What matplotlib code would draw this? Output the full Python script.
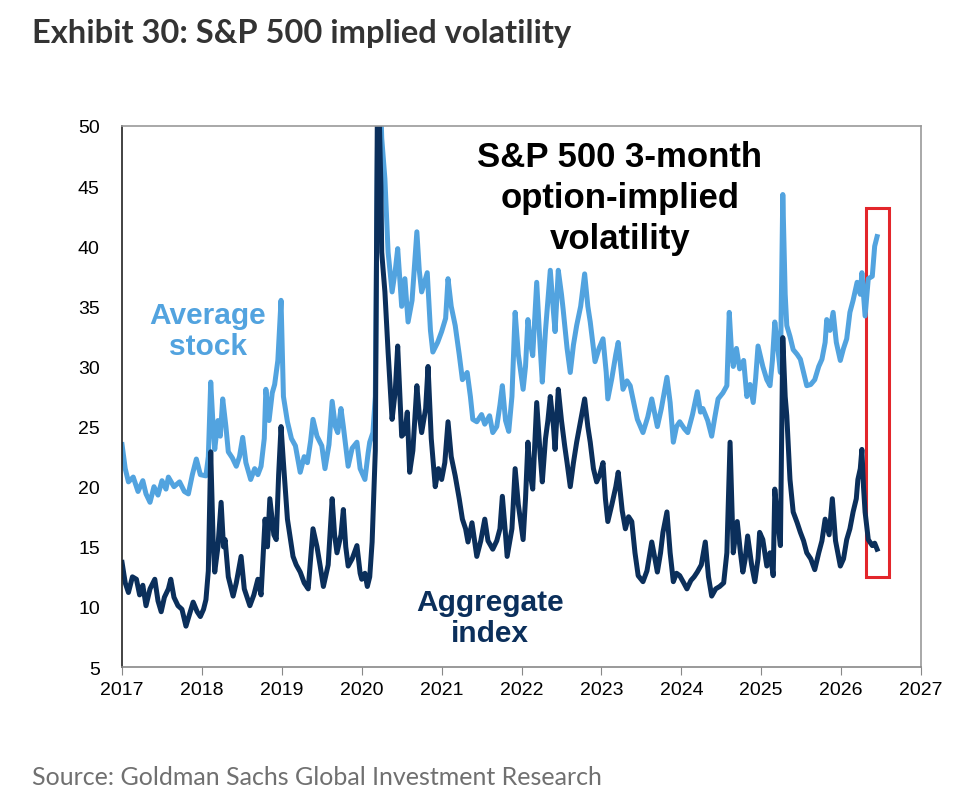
import numpy as np
import matplotlib.pyplot as plt
from matplotlib.patches import Rectangle

# Average stock 3m implied vol (decimal year, vol)
avg_x = [2017.00, 2017.04, 2017.08, 2017.14, 2017.20, 2017.26, 2017.30, 2017.35, 2017.40, 2017.45,
         2017.50, 2017.55, 2017.58, 2017.65, 2017.72, 2017.78, 2017.83, 2017.88, 2017.93, 2017.98,
         2018.05, 2018.08, 2018.11, 2018.14, 2018.16, 2018.20, 2018.23, 2018.26, 2018.30, 2018.33,
         2018.38, 2018.43, 2018.47, 2018.51, 2018.55, 2018.61, 2018.66, 2018.70, 2018.74, 2018.78,
         2018.80, 2018.84, 2018.88, 2018.91, 2018.95, 2018.99, 2019.02, 2019.07, 2019.12, 2019.17,
         2019.23, 2019.28, 2019.32, 2019.36, 2019.39, 2019.44, 2019.50, 2019.54, 2019.59, 2019.63,
         2019.67, 2019.70, 2019.74, 2019.77, 2019.83, 2019.88, 2019.94, 2019.98, 2020.04, 2020.08,
         2020.10, 2020.14, 2020.17, 2020.21, 2020.25, 2020.29, 2020.33, 2020.38, 2020.42, 2020.45,
         2020.50, 2020.54, 2020.58, 2020.63, 2020.69, 2020.72, 2020.75, 2020.82, 2020.86, 2020.89,
         2020.95, 2021.00, 2021.05, 2021.08, 2021.12, 2021.17, 2021.22, 2021.26, 2021.32, 2021.36,
         2021.39, 2021.44, 2021.50, 2021.54, 2021.60, 2021.64, 2021.69, 2021.73, 2021.76, 2021.80,
         2021.84, 2021.88, 2021.92, 2021.96, 2022.02, 2022.05, 2022.08, 2022.11, 2022.14, 2022.19,
         2022.23, 2022.26, 2022.30, 2022.33, 2022.36, 2022.40, 2022.42, 2022.46, 2022.50, 2022.52,
         2022.57, 2022.61, 2022.65, 2022.69, 2022.74, 2022.79, 2022.83, 2022.86, 2022.92, 2022.97,
         2023.02, 2023.06, 2023.08, 2023.13, 2023.18, 2023.21, 2023.27, 2023.32, 2023.36, 2023.42,
         2023.45, 2023.52, 2023.58, 2023.63, 2023.67, 2023.70, 2023.75, 2023.82, 2023.86, 2023.90,
         2023.94, 2023.98, 2024.04, 2024.08, 2024.14, 2024.20, 2024.24, 2024.27, 2024.33, 2024.38,
         2024.42, 2024.46, 2024.52, 2024.57, 2024.60, 2024.63, 2024.65, 2024.69, 2024.73, 2024.78,
         2024.82, 2024.86, 2024.90, 2024.93, 2024.96, 2025.02, 2025.07, 2025.11, 2025.14, 2025.17,
         2025.20, 2025.24, 2025.27, 2025.30, 2025.32, 2025.36, 2025.40, 2025.45, 2025.49, 2025.53,
         2025.57, 2025.62, 2025.67, 2025.72, 2025.76, 2025.80, 2025.82, 2025.86, 2025.90, 2025.94,
         2025.99, 2026.03, 2026.07, 2026.11, 2026.15, 2026.20, 2026.24, 2026.26, 2026.30, 2026.34,
         2026.39, 2026.42, 2026.45]
avg_y = [23.5, 21.5, 20.4, 20.8, 19.6, 20.5, 19.4, 18.7, 20.0, 19.3,
         20.5, 19.8, 20.8, 20.0, 20.4, 19.6, 19.4, 21.0, 22.3, 21.0,
         20.9, 22.5, 28.7, 25.0, 23.1, 25.5, 24.2, 27.3, 25.0, 22.9,
         22.4, 21.7, 22.5, 24.1, 22.0, 20.6, 21.5, 21.0, 21.7, 24.0,
         28.1, 25.5, 27.8, 28.5, 30.5, 35.5, 27.5, 25.4, 24.0, 23.4,
         21.2, 22.5, 22.0, 23.8, 25.6, 24.2, 23.4, 21.5, 23.5, 27.1,
         25.0, 24.5, 26.5, 25.0, 21.7, 23.2, 23.7, 21.5, 20.6, 22.8,
         23.7, 24.5, 27.5, 58.0, 49.0, 45.6, 39.5, 36.2, 38.0, 39.8,
         35.0, 37.3, 33.7, 35.5, 41.2, 38.0, 36.2, 37.8, 33.0, 31.2,
         32.0, 32.9, 34.0, 37.3, 35.0, 33.4, 31.0, 28.9, 29.5, 27.5,
         25.6, 25.4, 26.0, 25.2, 25.9, 24.5, 25.0, 26.8, 28.4, 25.5,
         24.6, 27.5, 34.5, 31.0, 28.1, 30.0, 33.9, 32.0, 30.9, 37.0,
         32.0, 28.7, 33.0, 35.5, 38.0, 34.5, 32.9, 38.0, 36.0, 34.8,
         31.5, 29.5, 31.8, 33.4, 35.0, 37.7, 35.0, 33.7, 30.4, 31.5,
         32.3, 29.5, 27.3, 29.0, 31.0, 32.0, 28.1, 28.8, 28.4, 26.5,
         25.6, 24.5, 25.8, 27.3, 26.0, 25.0, 26.5, 29.1, 27.0, 23.7,
         25.0, 25.4, 24.8, 24.5, 26.0, 27.9, 26.2, 26.5, 25.5, 24.2,
         25.8, 27.3, 27.8, 28.4, 34.5, 31.0, 30.0, 31.5, 29.8, 30.5,
         27.5, 28.5, 27.0, 29.0, 31.7, 30.0, 28.9, 28.4, 30.5, 33.7,
         32.0, 29.5, 44.3, 36.0, 33.4, 32.5, 31.4, 31.0, 30.6, 29.5,
         28.4, 28.5, 28.9, 30.0, 30.6, 32.0, 33.9, 33.0, 34.5, 32.0,
         30.5, 31.5, 32.3, 34.5, 35.5, 37.0, 36.0, 37.8, 34.2, 37.3,
         37.5, 40.0, 40.8]

# Aggregate index 3m implied vol
agg_x = [2017.00, 2017.04, 2017.08, 2017.13, 2017.18, 2017.22, 2017.26, 2017.30, 2017.35, 2017.41,
         2017.45, 2017.49, 2017.53, 2017.58, 2017.61, 2017.65, 2017.70, 2017.75, 2017.80, 2017.85,
         2017.89, 2017.94, 2017.98, 2018.02, 2018.05, 2018.08, 2018.11, 2018.14, 2018.16, 2018.20,
         2018.24, 2018.27, 2018.29, 2018.33, 2018.39, 2018.43, 2018.49, 2018.53, 2018.60, 2018.65,
         2018.70, 2018.74, 2018.79, 2018.82, 2018.85, 2018.90, 2018.93, 2018.96, 2018.99, 2019.02,
         2019.07, 2019.14, 2019.18, 2019.23, 2019.28, 2019.33, 2019.36, 2019.39, 2019.44, 2019.48,
         2019.52, 2019.58, 2019.63, 2019.66, 2019.69, 2019.74, 2019.77, 2019.80, 2019.83, 2019.88,
         2019.94, 2019.98, 2020.00, 2020.04, 2020.07, 2020.10, 2020.13, 2020.17, 2020.20, 2020.24,
         2020.25, 2020.29, 2020.33, 2020.38, 2020.42, 2020.45, 2020.50, 2020.54, 2020.57, 2020.60,
         2020.64, 2020.69, 2020.72, 2020.75, 2020.80, 2020.83, 2020.87, 2020.92, 2020.96, 2021.00,
         2021.04, 2021.08, 2021.12, 2021.17, 2021.22, 2021.26, 2021.30, 2021.33, 2021.38, 2021.44,
         2021.49, 2021.54, 2021.58, 2021.64, 2021.69, 2021.73, 2021.76, 2021.80, 2021.82, 2021.88,
         2021.92, 2021.96, 2022.02, 2022.05, 2022.08, 2022.11, 2022.14, 2022.19, 2022.23, 2022.26,
         2022.30, 2022.33, 2022.36, 2022.40, 2022.42, 2022.46, 2022.50, 2022.54, 2022.57, 2022.61,
         2022.65, 2022.69, 2022.74, 2022.79, 2022.83, 2022.86, 2022.90, 2022.94, 2022.98, 2023.02,
         2023.05, 2023.08, 2023.13, 2023.18, 2023.21, 2023.26, 2023.30, 2023.34, 2023.38, 2023.42,
         2023.46, 2023.52, 2023.57, 2023.63, 2023.67, 2023.70, 2023.74, 2023.77, 2023.82, 2023.86,
         2023.90, 2023.94, 2023.98, 2024.03, 2024.07, 2024.12, 2024.16, 2024.20, 2024.25, 2024.30,
         2024.34, 2024.38, 2024.43, 2024.48, 2024.53, 2024.57, 2024.61, 2024.64, 2024.65, 2024.70,
         2024.74, 2024.77, 2024.80, 2024.83, 2024.88, 2024.92, 2024.96, 2024.98, 2025.02, 2025.07,
         2025.11, 2025.15, 2025.17, 2025.20, 2025.24, 2025.27, 2025.30, 2025.32, 2025.36, 2025.40,
         2025.45, 2025.49, 2025.53, 2025.57, 2025.62, 2025.67, 2025.72, 2025.76, 2025.80, 2025.85,
         2025.89, 2025.93, 2025.99, 2026.03, 2026.07, 2026.11, 2026.15, 2026.19, 2026.21, 2026.24,
         2026.26, 2026.28, 2026.30, 2026.34, 2026.39, 2026.42, 2026.45]
agg_y = [13.7, 12.0, 11.2, 12.5, 12.3, 11.0, 11.8, 10.1, 11.5, 12.3,
         10.5, 9.6, 10.8, 11.5, 12.3, 10.8, 10.1, 9.8, 8.4, 9.5,
         10.4, 9.6, 9.2, 9.8, 10.6, 13.0, 22.9, 15.5, 12.9, 15.0,
         18.7, 15.0, 15.6, 12.5, 10.9, 12.0, 14.2, 11.5, 10.1, 11.0,
         12.3, 11.0, 17.3, 15.0, 19.0, 16.0, 15.6, 21.0, 25.0, 22.0,
         17.3, 14.2, 13.5, 12.9, 12.0, 11.5, 14.0, 16.5, 15.0, 13.4,
         11.7, 13.5, 19.0, 16.0, 14.5, 16.0, 18.1, 15.0, 13.4, 14.0,
         15.1, 12.8, 12.3, 12.8, 11.7, 12.5, 15.4, 23.0, 56.0, 45.0,
         39.5, 36.2, 31.2, 25.6, 28.0, 31.7, 24.2, 24.5, 26.2, 21.2,
         23.0, 28.4, 26.0, 24.5, 26.5, 30.0, 24.0, 20.0, 21.5, 20.6,
         22.0, 25.4, 22.5, 20.9, 19.0, 17.3, 16.5, 15.4, 17.0, 14.2,
         15.5, 17.3, 15.5, 14.8, 15.5, 16.5, 19.2, 16.0, 14.2, 16.5,
         21.5, 18.5, 15.6, 19.0, 23.7, 21.0, 19.8, 27.0, 23.0, 20.4,
         24.0, 25.5, 27.5, 25.0, 23.1, 28.1, 25.5, 23.4, 22.0, 20.0,
         22.0, 23.7, 25.5, 27.3, 25.0, 23.7, 21.5, 20.4, 21.0, 22.0,
         19.0, 17.1, 18.5, 20.0, 21.2, 18.0, 16.5, 17.5, 17.1, 14.5,
         12.6, 12.1, 13.0, 15.4, 14.0, 12.9, 14.5, 16.2, 17.9, 14.5,
         12.1, 12.8, 12.6, 12.0, 11.5, 12.2, 12.5, 12.9, 13.5, 15.4,
         12.5, 10.9, 11.5, 11.7, 12.0, 14.5, 23.7, 17.0, 14.5, 17.1,
         14.5, 12.9, 14.0, 15.9, 13.5, 12.1, 14.0, 16.2, 15.6, 13.4,
         14.5, 12.6, 19.8, 17.5, 15.1, 32.4, 27.5, 25.9, 20.6, 17.9,
         17.0, 16.2, 15.5, 14.5, 14.0, 13.1, 14.5, 15.5, 17.3, 16.0,
         19.0, 15.5, 13.4, 14.0, 15.6, 16.5, 17.9, 19.0, 20.6, 21.5,
         23.1, 20.0, 17.9, 15.6, 15.1, 15.3, 14.8]

years = list(range(2017, 2028))
yticks = list(range(5, 55, 5))

light = '#52a3df'
dark = '#0b2f5b'

fig = plt.figure(figsize=(9.74, 8.12), dpi=100)
ax = fig.add_axes([0.1253, 0.1773, 0.8203, 0.6663])

ax.plot(avg_x, avg_y, color=light, lw=3.6)
ax.plot(agg_x, agg_y, color=dark, lw=3.6)

ax.set_xlim(2017, 2027)
ax.set_ylim(5, 50)
ax.set_xticks(years)
ax.set_yticks(yticks)
ax.tick_params(axis='x', direction='out', length=6, color='#888888', labelsize=14, pad=4)
ax.tick_params(axis='y', length=0, labelsize=14, pad=16)
for lab in ax.get_xticklabels() + ax.get_yticklabels():
    lab.set_fontfamily('Liberation Sans')
for s in ax.spines.values():
    s.set_color('#999999')
    s.set_linewidth(1.2)
ax.spines['left'].set_color('#222222')
ax.spines['bottom'].set_color('#888888')

# highlight box on recent data
ax.add_patch(Rectangle((2026.31, 12.5), 0.29, 30.7, fill=False, edgecolor='#e3262b', lw=2.2, clip_on=False))

ax.text(2023.23, 48.8, 'S&P 500 3-month\noption-implied\nvolatility',
        ha='center', va='top', fontsize=25, fontweight='bold', family='Liberation Sans',
        linespacing=1.3, color='black')
ax.text(2018.07, 33.0, 'Average\nstock', ha='center', va='center', fontsize=21.5, fontweight='bold',
        family='Liberation Sans', color=light, linespacing=1.15)
ax.text(2021.6, 9.1, 'Aggregate\nindex', ha='center', va='center', fontsize=21.5, fontweight='bold',
        family='Liberation Sans', color=dark, linespacing=1.12)

fig.text(32 / 974, 1 - 33 / 812, 'Exhibit 30: S&P 500 implied volatility', ha='left', va='center',
         fontsize=23.5, fontweight='bold', family='Lato', color='#333333')
fig.text(32 / 974, 1 - 778 / 812, 'Source: Goldman Sachs Global Investment Research', ha='left', va='center',
         fontsize=18, family='Lato', color='#707070')

fig.savefig('out.png', dpi=100, facecolor='white')
